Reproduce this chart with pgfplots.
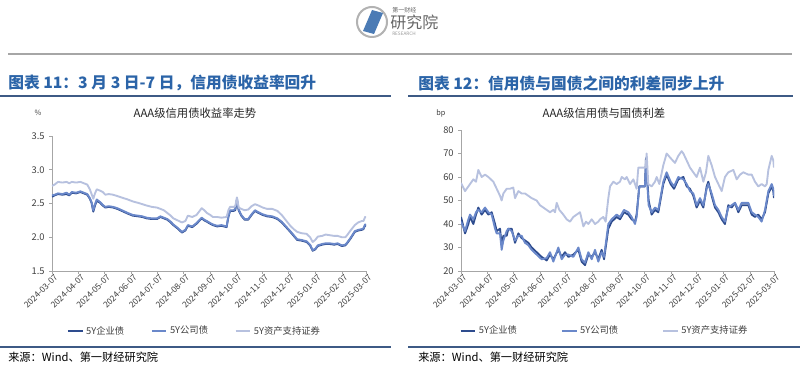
\documentclass[border=0pt]{standalone}
\usepackage{pgfplots}
\pgfplotsset{compat=1.18}
\usepackage{fontspec}
\setmainfont{Noto Sans CJK SC}
\definecolor{cQY}{HTML}{2E4C8E}
\definecolor{cGS}{HTML}{6A88CA}
\definecolor{cABS}{HTML}{B7C1DF}
\definecolor{tblue}{HTML}{2B64A8}
\definecolor{rule}{HTML}{3D5A85}
\definecolor{tick}{HTML}{404040}
\definecolor{axisgray}{HTML}{A6A6A6}
\pgfplotsset{
  mystyle/.style={
    scale only axis,
    axis x line*=bottom, axis y line*=left,
    axis line style={axisgray, line width=0.6pt},
    tick align=outside, major tick length=2pt,
    tick style={axisgray, line width=0.5pt},
    xmin=0, xmax=365,
    xtick={0,31,61,92,122,153,184,214,245,275,306,337,365},
    xticklabels={2024-03-07,2024-04-07,2024-05-07,2024-06-07,2024-07-07,2024-08-07,2024-09-07,2024-10-07,2024-11-07,2024-12-07,2025-01-07,2025-02-07,2025-03-07},
    x tick label style={rotate=45, anchor=north east, font=\fontsize{6.3}{7}\selectfont, text=tick, inner sep=1pt, xshift=2pt},
    y tick label style={font=\fontsize{7}{8}\selectfont, text=tick},
    /pgf/number format/assume math mode=true,
    legend columns=3,
    legend style={draw=none, fill=none, font=\fontsize{7}{8}\selectfont, text=tick,
      /tikz/every even column/.append style={column sep=18pt}},
    legend image code/.code={\draw[#1, line width=1.3pt] (0pt,0pt) -- (11pt,0pt);},
    every axis plot/.append style={line width=1.4pt, line join=round},
  }
}
\begin{document}
\begin{tikzpicture}[x=0.75pt,y=0.75pt]
\useasboundingbox (0,0) rectangle (800,367);
\fill[white] (0,0) rectangle (800,367);
% logo
\draw[gray!60, line width=1.5pt] (372,345) circle (15);
\fill[tblue!85] (363,336) -- (372,357) -- (383,354) -- (374,333) -- cycle;
\node[anchor=west, inner sep=0pt, text=gray!80!black, font=\fontsize{4.5}{5}\selectfont] at (392,357) {第一财经};
\node[anchor=west, inner sep=0pt, text=gray!80!black, font=\fontsize{12}{13}\selectfont] at (390,345) {研究院};
\node[anchor=west, inner sep=0pt, text=gray!80, font=\fontsize{3.5}{4}\selectfont] at (392,333) {RESEARCH};
% top rule
\draw[gray!70, line width=0.8pt] (8,313) -- (792,313);
% titles
\node[anchor=west, inner sep=0pt, text=tblue, font=\fontsize{11.8}{13}\selectfont\bfseries] at (8,284) {图表 11：3 月 3 日-7 日，信用债收益率回升};
\node[anchor=west, inner sep=0pt, text=tblue, font=\fontsize{11.8}{13}\selectfont\bfseries] at (418,284) {图表 12：信用债与国债之间的利差同步上升};
\draw[rule, line width=1.5pt] (0,271) -- (391,271);
\draw[rule, line width=1.5pt] (408,271) -- (793,271);
% subtitles
\node[inner sep=0pt, text=black!85, font=\fontsize{8.5}{10}\selectfont] at (195,254) {AAA级信用债收益率走势};
\node[inner sep=0pt, text=black!85, font=\fontsize{8.5}{10}\selectfont] at (604,254) {AAA级信用债与国债利差};
\node[inner sep=0pt, text=tick, font=\fontsize{5.5}{6}\selectfont] at (38,254) {\%};
\node[inner sep=0pt, text=tick, font=\fontsize{5.5}{6}\selectfont] at (441,254) {bp};
% source
\draw[rule, line width=1.5pt] (0,20) -- (391,20);
\draw[rule, line width=1.5pt] (408,20) -- (800,20);
\node[anchor=west, inner sep=0pt, text=black, font=\fontsize{8.4}{9}\selectfont] at (8,10) {来源：Wind、第一财经研究院};
\node[anchor=west, inner sep=0pt, text=black, font=\fontsize{8.4}{9}\selectfont] at (418,10) {来源：Wind、第一财经研究院};

% left chart
\begin{axis}[mystyle, at={(39pt,72pt)}, anchor=south west,
  width=235.5pt, height=101.25pt,
  ymin=1.5, ymax=3.5, ytick={1.5,2.0,2.5,3.0,3.5},
  yticklabel style={/pgf/number format/.cd, fixed, fixed zerofill, precision=1},
  legend style={at={(0.455,-0.445)}, anchor=center},
]
\addplot[cQY] coordinates {(0,2.60)(3,2.62)(7,2.64)(12,2.63)(17,2.64)(20,2.62)(23,2.66)(28,2.65)(33,2.67)(37,2.65)(41,2.63)(44,2.57)(46,2.51)(48,2.38)(50,2.47)(52,2.54)(56,2.51)(59,2.47)(62,2.44)(66,2.45)(71,2.44)(76,2.42)(83,2.38)(88,2.35)(94,2.32)(100,2.31)(105,2.30)(110,2.28)(116,2.27)(122,2.27)(126,2.30)(130,2.28)(134,2.26)(138,2.22)(141,2.18)(146,2.13)(151,2.07)(155,2.10)(158,2.17)(163,2.15)(168,2.20)(174,2.28)(177,2.25)(180,2.23)(184,2.20)(187,2.18)(192,2.16)(197,2.17)(203,2.15)(205,2.30)(207,2.39)(211,2.39)(213,2.40)(215,2.55)(217,2.40)(220,2.32)(224,2.26)(228,2.26)(232,2.33)(236,2.39)(240,2.36)(245,2.33)(250,2.31)(256,2.30)(262,2.27)(267,2.22)(272,2.15)(277,2.08)(281,2.02)(285,1.96)(290,1.95)(296,1.93)(300,1.88)(303,1.80)(306,1.82)(309,1.87)(314,1.89)(318,1.90)(323,1.90)(328,1.89)(332,1.90)(337,1.87)(341,1.88)(343,1.91)(347,1.98)(352,2.08)(356,2.10)(360,2.11)(362,2.12)(364,2.18)(365,2.16)};
\addlegendentry{5Y企业债}
\addplot[cGS] coordinates {(0,2.62)(3,2.63)(7,2.65)(12,2.64)(17,2.66)(20,2.63)(23,2.67)(28,2.66)(33,2.68)(37,2.66)(41,2.64)(44,2.58)(46,2.52)(48,2.40)(50,2.49)(52,2.56)(56,2.52)(59,2.48)(62,2.45)(66,2.46)(71,2.45)(76,2.43)(83,2.39)(88,2.36)(94,2.33)(100,2.32)(105,2.31)(110,2.29)(116,2.28)(122,2.28)(126,2.31)(130,2.29)(134,2.27)(138,2.23)(141,2.19)(146,2.14)(151,2.08)(155,2.11)(158,2.18)(163,2.16)(168,2.21)(174,2.29)(177,2.26)(180,2.24)(184,2.21)(187,2.19)(192,2.17)(197,2.18)(203,2.16)(205,2.31)(207,2.40)(211,2.40)(213,2.42)(215,2.57)(217,2.41)(220,2.33)(224,2.27)(228,2.27)(232,2.34)(236,2.40)(240,2.37)(245,2.34)(250,2.32)(256,2.31)(262,2.28)(267,2.23)(272,2.16)(277,2.09)(281,2.03)(285,1.97)(290,1.96)(296,1.94)(300,1.89)(303,1.81)(306,1.83)(309,1.88)(314,1.90)(318,1.91)(323,1.91)(328,1.90)(332,1.91)(337,1.88)(341,1.89)(343,1.92)(347,1.99)(352,2.09)(356,2.11)(360,2.12)(362,2.13)(364,2.19)(365,2.18)};
\addlegendentry{5Y公司债}
\addplot[cABS] coordinates {(0,2.76)(3,2.78)(7,2.82)(12,2.81)(17,2.82)(20,2.80)(23,2.82)(28,2.81)(33,2.82)(37,2.80)(41,2.78)(44,2.71)(46,2.64)(48,2.57)(50,2.65)(52,2.71)(56,2.69)(59,2.67)(62,2.63)(66,2.64)(71,2.63)(76,2.61)(83,2.58)(88,2.56)(94,2.53)(100,2.51)(105,2.49)(110,2.47)(116,2.45)(122,2.44)(126,2.42)(130,2.40)(134,2.36)(138,2.32)(141,2.28)(146,2.25)(151,2.22)(155,2.24)(158,2.32)(163,2.30)(168,2.33)(174,2.43)(177,2.40)(180,2.36)(184,2.33)(187,2.30)(192,2.30)(197,2.29)(203,2.30)(205,2.40)(207,2.45)(211,2.45)(213,2.46)(215,2.59)(217,2.44)(220,2.42)(224,2.40)(228,2.41)(232,2.46)(236,2.49)(240,2.47)(245,2.44)(250,2.42)(256,2.42)(262,2.39)(267,2.33)(272,2.25)(277,2.17)(281,2.12)(285,2.08)(290,2.06)(296,2.05)(300,2.00)(303,1.93)(306,1.96)(309,2.01)(314,2.02)(318,2.04)(323,2.03)(328,2.02)(332,2.02)(337,2.00)(341,2.00)(343,2.03)(347,2.10)(352,2.18)(356,2.22)(360,2.24)(362,2.24)(364,2.30)(365,2.29)};
\addlegendentry{5Y资产支持证券}
\end{axis}

% right chart
\begin{axis}[mystyle, at={(345.75pt,72pt)}, anchor=south west,
  width=234.75pt, height=105.75pt,
  ymin=20, ymax=80, ytick={20,30,40,50,60,70,80},
  legend style={at={(0.46,-0.425)}, anchor=center,
    /tikz/every even column/.append style={column sep=31pt}},
]
\addplot[cQY] coordinates {(0,43)(4.7,36)(8.6,40)(10.5,43)(14.4,40)(17.5,44)(20.2,47)(24.1,44)(28,46)(31.9,44)(35.8,45)(39.7,40)(41.6,37)(45.5,38)(47.4,31)(49.4,35)(53.3,35)(55.2,38)(59.1,38)(63,32)(66.9,36)(70.7,34)(74.6,33)(78.5,32)(82.4,30)(88.2,28)(94,26)(99.9,24.5)(103.8,27)(107.7,25)(113.5,29)(117.4,26)(121.3,28)(125.2,26)(131,27)(136.9,29)(140.7,24)(144.6,22.5)(148.5,27)(152.4,26)(156.3,28)(160.1,25)(164,29)(166.8,25)(171.8,38)(175.7,41)(181.5,43)(185.4,42)(190.1,45)(195.1,44)(199,42)(202.9,41)(204.8,44)(207.9,56)(214.5,56)(215.7,68)(218.8,50)(222.3,44)(226.2,46)(230.1,45)(235.9,57)(239.8,61)(244.5,57)(248.4,55)(253.4,59)(259.3,60)(263.2,56)(267,55)(270.9,52)(274.8,47)(278.7,50)(282.6,47)(286.5,56)(288.4,58)(292.3,52)(296.2,47)(300.1,45)(304,42)(307.8,40)(311.7,48)(315.6,47)(319.5,49)(323.4,45)(327.3,48)(335.1,48)(339,44)(342.8,43)(346.7,44)(350.6,42)(354.5,45)(358.4,53)(362.3,56)(364.2,54)(365,51)};
\addlegendentry{5Y企业债}
\addplot[cGS] coordinates {(0,41)(4.7,37)(8.6,42)(10.5,44)(14.4,42)(17.5,45)(20.2,46)(24.1,45)(28,47)(31.9,45)(35.8,44)(39.7,38)(41.6,36)(45.5,36)(47.4,29)(49.4,33)(53.3,37)(55.2,38)(59.1,37)(63,33)(66.9,35)(70.7,35)(74.6,32)(78.5,31)(82.4,29)(88.2,27)(94,25)(99.9,25.5)(103.8,28)(107.7,24)(113.5,30)(117.4,25)(121.3,27)(125.2,27)(131,26)(136.9,30)(140.7,25)(144.6,23.5)(148.5,28)(152.4,25)(156.3,29)(160.1,24)(164,28)(166.8,26)(171.8,40)(175.7,42)(181.5,44)(185.4,43)(190.1,46)(195.1,45)(199,43)(202.9,40)(204.8,43)(207.9,56)(214.5,56)(215.7,66)(218.8,48)(222.3,45)(226.2,47)(230.1,46)(235.9,58)(239.8,62)(244.5,58)(248.4,56)(253.4,60)(259.3,59)(263.2,57)(267,54)(270.9,53)(274.8,48)(278.7,51)(282.6,48)(286.5,55)(288.4,57)(292.3,53)(296.2,48)(300.1,46)(304,43)(307.8,41)(311.7,47)(315.6,48)(319.5,49)(323.4,46)(327.3,49)(335.1,49)(339,45)(342.8,44)(346.7,43)(350.6,41)(354.5,46)(358.4,54)(362.3,57)(364.2,55)(365,52)};
\addlegendentry{5Y公司债}
\addplot[cABS] coordinates {(0,57.5)(4.7,54)(8.6,56)(14.4,59)(17.5,58)(20.2,63)(24.1,60)(28,61)(31.9,60)(37.7,58)(41.6,55)(45.5,52)(47.4,50)(49.4,53)(53.3,55)(57.1,55)(61,55.5)(63,51)(66.9,54)(70.7,53)(74.6,53)(78.5,52)(82.4,51)(88.2,50)(92.1,48)(96,47)(99.9,46)(103.8,45)(107.7,46)(109.6,45)(111.6,49)(114.7,46)(119.3,44)(123.2,42)(127.1,41)(131,43)(134.9,44)(138.8,45)(142.7,39)(145.8,41)(148.5,40)(152.4,42)(156.3,40)(160.1,41)(162.1,42)(166,43)(168.7,41)(171.8,51)(173.8,56)(177.7,58)(181.5,57)(185.4,58)(187.4,60)(191.2,59)(193.2,60)(197.1,57)(201,59)(204.8,55)(206.8,64)(212.6,64)(215.3,64)(216.5,70)(218.4,57)(222.3,56)(226.2,58)(228.2,60)(231.3,57)(235.9,65)(239.8,70)(244.5,68)(249.5,66)(253.4,69)(257.3,71)(259.3,70)(263.2,67)(267,64)(270.9,62)(274.8,60)(278.7,64)(282.6,58)(285.7,62)(288.4,69)(292.3,65)(296.2,60)(300.1,57)(304,54)(307.8,60)(311.7,62)(317.6,63)(321.5,59)(325.4,61)(329.2,62)(335.1,61)(339,61)(342.8,58)(346.7,56)(350.6,57)(354.5,56)(356.5,57)(358.4,63)(362.3,69)(364.2,67)(365,64)};
\addlegendentry{5Y资产支持证券}
\end{axis}
\end{tikzpicture}
\end{document}
